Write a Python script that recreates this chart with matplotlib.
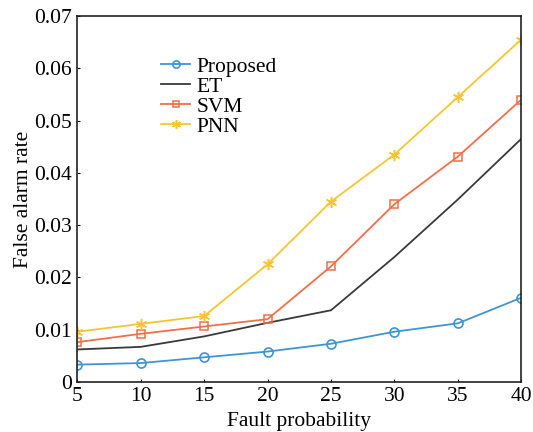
import numpy as np
from matplotlib import pyplot as plt

plt.rcParams['font.family'] = ['Liberation Serif', 'DejaVu Serif']

fault_prob = [5, 10, 15, 20, 25, 30, 35, 40]
proposed = [0.0033, 0.0036, 0.0047, 0.0058, 0.0073, 0.0096, 0.0112, 0.0161]
et = [0.0062, 0.0067, 0.0087, 0.0113, 0.0137, 0.0239, 0.0349, 0.0465]
svm = [0.0076, 0.0092, 0.0106, 0.0120, 0.0221, 0.0340, 0.0431, 0.0540]
pnn = [0.0096, 0.0111, 0.0126, 0.0225, 0.0345, 0.0435, 0.0545, 0.0655]

fig = plt.figure(figsize=(5.33, 4.32), dpi=100)
ax = fig.add_axes([0.145, 0.116, 0.833, 0.847])

ax.plot(fault_prob, proposed, color='#3d95d8', marker='o', markersize=6.5,
        markerfacecolor='none', markeredgewidth=1.2, linewidth=1.3, label='Proposed')
ax.plot(fault_prob, et, color='#3a3a3a', linewidth=1.3, label='ET')
ax.plot(fault_prob, svm, color='#ef7048', marker='s', markersize=5.5,
        markerfacecolor='none', markeredgewidth=1.1, linewidth=1.3, label='SVM')
# asterisk marker: six-armed star
ax.plot(fault_prob, pnn, color='#f8c530', marker=(6, 2, 0), markersize=8,
        markeredgewidth=1.1, linewidth=1.3, label='PNN')

ax.set_xlim(5, 40)
ax.set_ylim(0, 0.07)
ax.set_xticks(fault_prob)
ax.set_yticks(np.arange(0, 0.071, 0.01))
ax.set_yticklabels(['0', '0.01', '0.02', '0.03', '0.04', '0.05', '0.06', '0.07'])
ax.tick_params(direction='in', length=2, labelsize=15.5, pad=4)
for s in ax.spines.values():
    s.set_linewidth(1.2)
    s.set_color('#222222')

ax.set_xlabel('Fault probability', fontsize=15.5, labelpad=4)
ax.set_ylabel('False alarm rate', fontsize=15.5, labelpad=1)

leg = ax.legend(loc='upper left', bbox_to_anchor=(0.155, 0.93), frameon=False,
                fontsize=15.5, handlelength=1.35, handletextpad=0.3,
                labelspacing=0.0, borderpad=0.2, markerscale=0.8)

fig.savefig('out.png', dpi=100)
